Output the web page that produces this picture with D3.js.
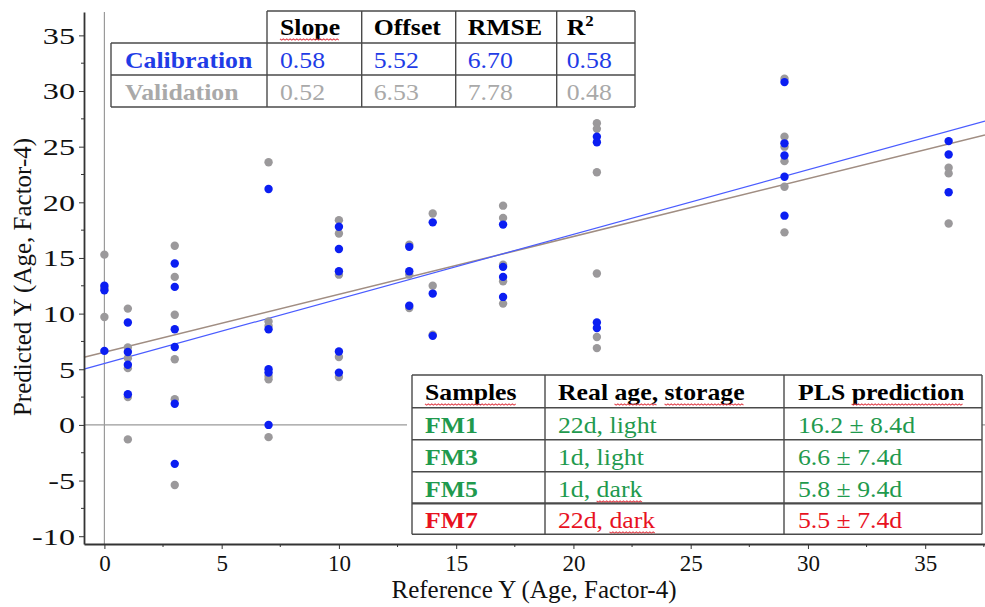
<!DOCTYPE html>
<html>
<head>
<meta charset="utf-8">
<script src="https://cdn.jsdelivr.net/npm/d3@7"></script>
<style>
  html, body { margin: 0; padding: 0; background: #fff; }
  svg { display: block; font-family: "Liberation Serif", "Times New Roman", serif; }
</style>
</head>
<body>
<svg id="chart" width="985" height="607"></svg>
<script>
// ---------- DATA ----------
const refAge = [0, 1, 3, 7, 10, 13, 14, 17, 21, 29, 36];
const calibration = [
  [12.5, 12.1, 6.65],
  [9.2, 6.55, 5.4, 2.75],
  [14.5, 12.4, 8.6, 7.0, 1.9, -3.5],
  [21.2, 8.6, 5.0, 4.7, 0.0],
  [17.8, 15.8, 13.8, 6.6, 4.7],
  [16.0, 13.8, 10.7],
  [18.2, 11.8, 8.0],
  [18.0, 14.2, 13.3, 11.5],
  [25.9, 25.4, 9.2, 8.7],
  [30.8, 25.3, 24.2, 22.3, 18.8],
  [25.5, 24.3, 20.9]
];
const validation = [
  [15.3, 9.7, 12.3],
  [10.45, 6.95, 6.0, 5.1, 2.5, -1.3],
  [16.1, 13.3, 9.9, 5.9, 2.3, -5.4],
  [23.6, 9.3, 8.9, 4.4, 4.1, -1.1],
  [18.4, 17.2, 13.5, 6.1, 4.3],
  [16.2, 13.5, 10.5],
  [19.0, 12.5, 8.1],
  [19.7, 18.6, 14.4, 12.9, 10.9],
  [27.1, 26.6, 22.7, 13.6, 7.9, 6.9],
  [31.1, 25.9, 25.0, 23.7, 21.4, 17.3],
  [23.1, 22.6, 18.1]
];
const statsHeader = ["Slope", "Offset", "RMSE", "R"];
const calibrationStats = [0.58, 5.52, 6.70, 0.58];
const validationStats = [0.52, 6.53, 7.78, 0.48];
const sampleHeader = ["Samples", "Real age, storage", "PLS prediction"];
const sampleNames = ["FM1", "FM3", "FM5", "FM7"];
const sampleStorage = ["22d, light", "1d, light", "1d, dark", "22d, dark"];
const samplePrediction = ["16.2 \u00b1 8.4d", "6.6 \u00b1 7.4d", "5.8 \u00b1 9.4d", "5.5 \u00b1 7.4d"];
const xTicks = [0, 5, 10, 15, 20, 25, 30, 35];
const yTicks = [-10, -5, 0, 5, 10, 15, 20, 25, 30, 35];

// ---------- STYLE ----------
const C = {
  blue: "#0b1ef2", gray: "#9b999b",
  blueLine: "#4a5cff", grayLine: "#a08d82",
  blueText: "#1f3ce6", grayText: "#a9a9a9",
  green: "#1f9a4e", red: "#e8121f",
  border: "#4a4a4a", axis: "#333"
};
const svg = d3.select("#chart");
const plot = { left: 84, right: 985, top: 12, bottom: 544 };

const x = d3.scaleLinear().domain([-0.87, 37.55]).range([plot.left, plot.right]);
const y = d3.scaleLinear().domain([-10.7, 37.1]).range([plot.bottom, plot.top]);
const fmt = v => String(v); // plain hyphen-minus

// zero lines
svg.append("line").attr("x1", x(0)).attr("x2", x(0)).attr("y1", plot.top).attr("y2", plot.bottom)
  .attr("stroke", "#9a9a9a").attr("stroke-width", 1.2);
svg.append("line").attr("x1", plot.left).attr("x2", plot.right).attr("y1", y(0)).attr("y2", y(0))
  .attr("stroke", "#9a9a9a").attr("stroke-width", 1.2);

// regression lines
const xd = x.domain();
function fitLine(stats, color, w) {
  const pts = xd.map(v => [x(v), y(stats[1] + stats[0] * v)]);
  svg.append("path").attr("d", d3.line()(pts)).attr("stroke", color).attr("stroke-width", w).attr("fill", "none");
}
fitLine(validationStats, C.grayLine, 1.5);
fitLine(calibrationStats, C.blueLine, 1.2);

// points
function flat(groups) {
  const out = [];
  groups.forEach((g, i) => g.forEach(v => out.push([refAge[i], v])));
  return out;
}
svg.append("g").selectAll("circle").data(flat(validation)).join("circle")
  .attr("cx", d => x(d[0])).attr("cy", d => y(d[1])).attr("r", 4.2).attr("fill", C.gray);
svg.append("g").selectAll("circle").data(flat(calibration)).join("circle")
  .attr("cx", d => x(d[0])).attr("cy", d => y(d[1])).attr("r", 4.2).attr("fill", C.blue);

// ---------- axes ----------
const minorY = d3.range(-10, 37.5, 2.5).filter(v => v % 5 !== 0);
const minorX = d3.range(0, 37.6, 2.5).filter(v => v % 5 !== 0);

const yAxis = svg.append("g").attr("transform", `translate(${plot.left},0)`)
  .call(d3.axisLeft(y).tickValues(yTicks).tickFormat(fmt).tickSize(5).tickPadding(4).tickSizeOuter(0));
yAxis.append("g").selectAll("line").data(minorY).join("line")
  .attr("x1", 0).attr("x2", -3).attr("y1", d => y(d)).attr("y2", d => y(d)).attr("stroke", C.axis);
yAxis.selectAll(".tick text").attr("font-size", 23).attr("fill", "#111")
  .attr("font-family", "Liberation Serif, serif")
  .attr("x", -9 / 1.4).attr("transform", "scale(1.4,1)").attr("dy", "0.34em");

const xAxis = svg.append("g").attr("transform", `translate(0,${plot.bottom})`)
  .call(d3.axisBottom(x).tickValues(xTicks).tickFormat(fmt).tickSize(5).tickPadding(6).tickSizeOuter(0));
xAxis.append("g").selectAll("line").data(minorX).join("line")
  .attr("y1", 0).attr("y2", 3).attr("x1", d => x(d)).attr("x2", d => x(d)).attr("stroke", C.axis);
xAxis.selectAll(".tick text").attr("font-size", 23).attr("fill", "#111")
  .attr("font-family", "Liberation Serif, serif");

[yAxis, xAxis].forEach(a => {
  a.select(".domain").attr("stroke", C.axis).attr("stroke-width", 1.8);
  a.selectAll(".tick line").attr("stroke", C.axis);
});

// axis titles
svg.append("text").attr("x", 534).attr("y", 598).attr("text-anchor", "middle")
  .attr("font-size", 25).attr("fill", "#111").text("Reference Y (Age, Factor-4)");
svg.append("text").attr("transform", "translate(31,277) rotate(-90)").attr("text-anchor", "middle")
  .attr("font-size", 25).attr("fill", "#111").text("Predicted Y (Age, Factor-4)");

// ---------- text helper ----------
const SX = 1.12;
function label(px, py, parts, opt) {
  const g = svg.append("g").attr("transform", `translate(${px},${py}) scale(${SX},1)`);
  const t = g.append("text").attr("x", 0).attr("y", 0)
    .attr("font-size", opt.size || 23).attr("font-weight", opt.bold ? "bold" : "normal")
    .attr("fill", opt.color);
  const spans = parts.map(p => {
    const s = t.append("tspan").text(p.t);
    if (p.sup) s.attr("font-size", 15).attr("dy", -9);
    return { s, p };
  });
  spans.forEach(({ s, p }) => {
    if (!p.wavy) return;
    const node = s.node();
    const n = node.getNumberOfChars();
    const x0 = node.getStartPositionOfChar(0).x;
    const x1 = node.getEndPositionOfChar(n - 1).x;
    const pts = [];
    let k = 0;
    for (let xx = x0; xx <= x1; xx += 1.5, k++) pts.push([xx, 4 + (k % 2 ? 1.2 : -0.2)]);
    g.append("path").attr("d", d3.line()(pts)).attr("fill", "none")
      .attr("stroke", "#e0404a").attr("stroke-width", 0.9);
  });
  return g;
}

// ---------- top stats table ----------
const tA = { colX: [111, 267, 361.7, 455.7, 556.7, 635], rowY: [11, 43, 75, 107] };
svg.append("rect").attr("x", tA.colX[1]).attr("y", tA.rowY[0]).attr("width", tA.colX[5] - tA.colX[1])
  .attr("height", tA.rowY[1] - tA.rowY[0]).attr("fill", "#fff");
svg.append("rect").attr("x", tA.colX[0]).attr("y", tA.rowY[1]).attr("width", tA.colX[5] - tA.colX[0])
  .attr("height", tA.rowY[3] - tA.rowY[1]).attr("fill", "#fff");
const gA = svg.append("g").attr("stroke", C.border).attr("stroke-width", 1.4).attr("fill", "none");
gA.append("line").attr("x1", tA.colX[1]).attr("x2", tA.colX[5]).attr("y1", tA.rowY[0]).attr("y2", tA.rowY[0]);
[1, 2, 3].forEach(i => gA.append("line").attr("x1", tA.colX[0]).attr("x2", tA.colX[5]).attr("y1", tA.rowY[i]).attr("y2", tA.rowY[i]));
gA.append("line").attr("x1", tA.colX[0]).attr("x2", tA.colX[0]).attr("y1", tA.rowY[1]).attr("y2", tA.rowY[3]);
[1, 2, 3, 4, 5].forEach(i => gA.append("line").attr("x1", tA.colX[i]).attr("x2", tA.colX[i]).attr("y1", tA.rowY[0]).attr("y2", tA.rowY[3]));

const padA = [13, 12, 12, 10];
statsHeader.forEach((h, i) => {
  const parts = i === 0 ? [{ t: h, wavy: true }] : (i === 3 ? [{ t: h }, { t: "2", sup: true }] : [{ t: h }]);
  label(tA.colX[i + 1] + padA[i], 35, parts, { bold: true, color: "#000" });
});
label(125, 68, [{ t: "Calibration" }], { bold: true, color: C.blueText });
label(125, 100, [{ t: "Validation" }], { bold: true, color: C.grayText });
calibrationStats.forEach((v, i) => label(tA.colX[i + 1] + padA[i], 68, [{ t: v.toFixed(2) }], { color: C.blueText }));
validationStats.forEach((v, i) => label(tA.colX[i + 1] + padA[i], 100, [{ t: v.toFixed(2) }], { color: C.grayText }));

// ---------- bottom samples table ----------
const tB = { colX: [412, 545, 784, 982], rowY: [375, 407.7, 439.7, 471.7, 503.3, 534.3] };
svg.append("rect").attr("x", tB.colX[0] - 5).attr("y", tB.rowY[0]).attr("width", tB.colX[3] - tB.colX[0] + 5)
  .attr("height", tB.rowY[5] - tB.rowY[0]).attr("fill", "#fff");
const gB = svg.append("g").attr("stroke", C.border).attr("stroke-width", 1.4).attr("fill", "none");
tB.rowY.forEach((ry, i) => gB.append("line").attr("x1", tB.colX[0]).attr("x2", tB.colX[3]).attr("y1", ry).attr("y2", ry)
  .attr("stroke-width", i === 4 ? 2.2 : 1.4));
tB.colX.forEach(cx => gB.append("line").attr("x1", cx).attr("x2", cx).attr("y1", tB.rowY[0]).attr("y2", tB.rowY[5]));

const colTextX = [425, 558, 798];
label(colTextX[0], 400, [{ t: "Samples", wavy: true }], { bold: true, color: "#000" });
label(colTextX[1], 400, [{ t: "Real " }, { t: "age,", wavy: true }, { t: " " }, { t: "storage", wavy: true }], { bold: true, color: "#000" });
label(colTextX[2], 400, [{ t: "PLS " }, { t: "prediction", wavy: true }], { bold: true, color: "#000" });
const rowBase = [433, 465, 497, 528];
sampleNames.forEach((nm, i) => {
  const col = i === 3 ? C.red : C.green;
  label(colTextX[0], rowBase[i], [{ t: nm }], { bold: true, color: col });
  const st = sampleStorage[i];
  const parts = st.includes("dark") ? [{ t: st.replace("dark", "") }, { t: "dark", wavy: true }] : [{ t: st }];
  label(colTextX[1], rowBase[i], parts, { color: col });
  label(colTextX[2], rowBase[i], [{ t: samplePrediction[i] }], { color: col });
});
</script>
</body>
</html>
